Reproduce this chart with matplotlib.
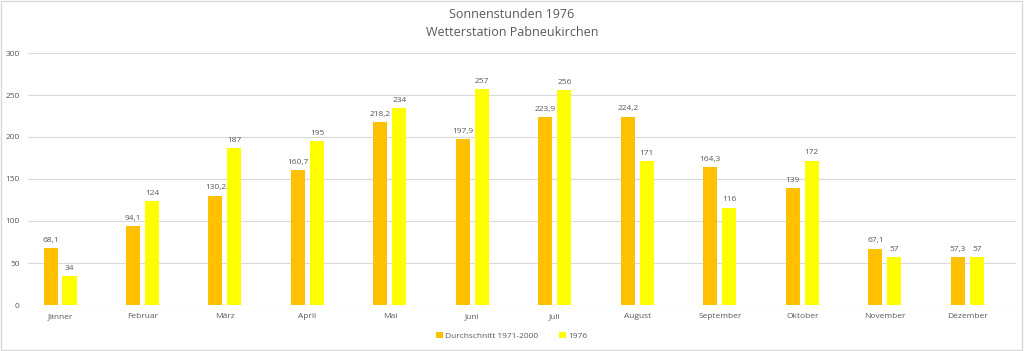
import matplotlib
matplotlib.use("Agg")
import matplotlib.pyplot as plt
import numpy as np

months = ["Jänner", "Februar", "März", "April", "Mai", "Juni", "Juli",
          "August", "September", "Oktober", "November", "Dezember"]
avg = [68.1, 94.1, 130.2, 160.7, 218.2, 197.9, 223.9, 224.2, 164.3, 139, 67.1, 57.3]
y1976 = [34, 124, 187, 195, 234, 257, 256, 171, 116, 172, 57, 57]
yticks = [0, 50, 100, 150, 200, 250, 300]

plt.rcParams['font.family'] = ['Open Sans', 'DejaVu Sans']
txt = '#595959'

fig = plt.figure(figsize=(10.24, 3.51), dpi=100)
ax = fig.add_axes([28/1024, 1-305/351, 988/1024, 252/351])

x = np.arange(len(months))
w = 0.17
off = 0.115
b1 = ax.bar(x - off, avg, w, color='#FFC000', label='Durchschnitt 1971-2000', zorder=3)
b2 = ax.bar(x + off, y1976, w, color='#FFFF00', label='1976', zorder=3)

def fmt(v):
    s = f"{v:g}"
    return s.replace('.', ',')

for xi, v in zip(x - off, avg):
    ax.text(xi, v + 5, fmt(v), ha='center', va='bottom', fontsize=6, color=txt)
for xi, v in zip(x + off, y1976):
    ax.text(xi, v + 5, fmt(v), ha='center', va='bottom', fontsize=6, color=txt)

ax.set_xlim(-0.388, 11.59)
ax.set_ylim(0, 300)
ax.set_yticks(yticks)
ax.set_yticklabels([str(t) for t in yticks], fontsize=6, color=txt)
ax.set_xticks(x)
ax.set_xticklabels(months, fontsize=6, color=txt)
ax.tick_params(axis='x', length=0, pad=6)
ax.tick_params(axis='y', length=0, pad=6)
ax.grid(axis='y', color='#D9D9D9', linewidth=0.8, zorder=0)
for s in ax.spines.values():
    s.set_visible(False)
ax.axhline(0, color='#D9D9D9', linewidth=0.8, zorder=1)

fig.text(0.5, 1-15/351, "Sonnenstunden 1976", ha='center', va='center', fontsize=9, color=txt)
fig.text(0.5, 1-32/351, "Wetterstation Pabneukirchen", ha='center', va='center', fontsize=9, color=txt)

leg = fig.legend(handles=[b1, b2], loc='center', bbox_to_anchor=(0.5, 1-336/351), ncol=2,
                 frameon=False, fontsize=6, handlelength=0.8, handleheight=0.8,
                 handletextpad=0.3, columnspacing=2.5, labelcolor=txt)

fig.patches.append(matplotlib.patches.Rectangle((0.001, 0.002), 0.997, 0.995, transform=fig.transFigure,
                                               fill=False, edgecolor='#D9D9D9', linewidth=1))
fig.savefig("out.png", dpi=100)
